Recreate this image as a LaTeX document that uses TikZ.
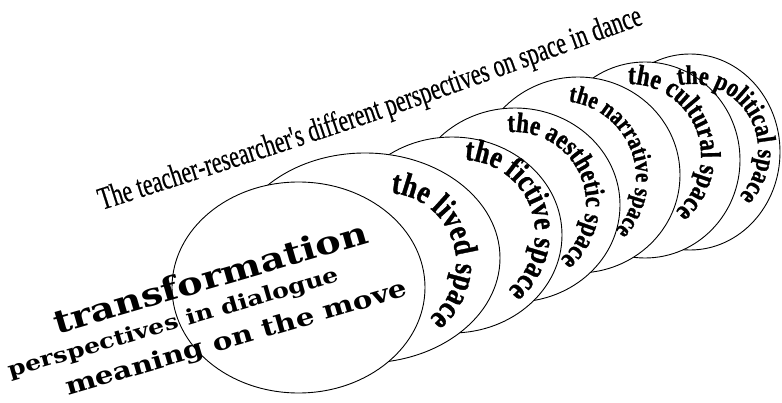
\documentclass[tikz,border=0pt]{standalone}
\usepackage{fontspec}
\setmainfont{Liberation Serif}
\newfontfamily\arcfont[FakeStretch=0.82,FakeBold=1]{Liberation Serif}
\newfontfamily\titlefont[FakeStretch=0.69,FakeBold=0.4]{Liberation Serif}
\newfontfamily\wideserif[FakeStretch=1.2]{DejaVu Serif}
\usetikzlibrary{shapes.geometric,decorations.text}

\begin{document}
\begin{tikzpicture}[
        x=1pt, y=1pt, % one unit = one point
        disc/.style={draw, fill=white, ellipse, inner sep=0pt, line width=0.9pt}, % one space
        arctext/.style={decorate, decoration={text along path, text format delimiters={|}{|}}}, % curved lettering
        wide/.style={anchor=base, rotate=16.3, inner sep=0pt} % slanted lines in the front disc
        ]
        \useasboundingbox (0,0) rectangle (782,402);

        % Define the spaces, back to front
        \node[disc, minimum width=180, minimum height=196] (political) at (690,250) {};
        \node[disc, minimum width=190, minimum height=196] (cultural) at (645,242) {};
        \node[disc, minimum width=204, minimum height=196] (narrative) at (578,227) {};
        \node[disc, minimum width=210, minimum height=194] (aesthetic) at (515,197) {};
        \node[disc, minimum width=220, minimum height=196] (fictive) at (452,167) {};
        \node[disc, minimum width=270, minimum height=210] (lived) at (365,144) {};
        \node[disc, minimum width=253, minimum height=211] (core) at (298.5,114.5) {};

        % Names along the right rim of each space
        \path[arctext, decoration={text={|\arcfont\bfseries\fontsize{27}{27}\selectfont|the political space}}]
            (692,252) ++(102:66) arc[start angle=102, end angle=-90, radius=66];
        \path[arctext, decoration={text={|\arcfont\bfseries\fontsize{28.6}{28}\selectfont|the cultural space}}]
            (629,246) ++(91:72) arc[start angle=91, end angle=-90, radius=72];
        \path[arctext, decoration={text={|\arcfont\bfseries\fontsize{25.3}{25}\selectfont|the narrative space}}]
            (559,224) ++(83:77) arc[start angle=83, end angle=-90, radius=77];
        \path[arctext, decoration={text={|\arcfont\bfseries\fontsize{28.2}{28}\selectfont|the aesthetic space}}]
            (514,198) ++(95:72) arc[start angle=95, end angle=-90, radius=72];
        \path[arctext, decoration={text={|\arcfont\bfseries\fontsize{31.9}{32}\selectfont|the fictive space}}]
            (462,169) ++(88:73) arc[start angle=88, end angle=-90, radius=73];
        \path[arctext, decoration={text={|\arcfont\bfseries\fontsize{33}{33}\selectfont|the lived space}}]
            (386,139) ++(86:70) arc[start angle=86, end angle=-90, radius=70];

        % Heading over the row of spaces
        \path[arctext, decoration={text={|\titlefont\fontsize{32}{32}\selectfont|The teacher-researcher's different perspectives on space in dance}}]
            (102,192) .. controls (373,279) .. (652,381);

        % Lines in the front space
        \node[wide, font=\wideserif\bfseries\fontsize{32}{32}\selectfont] (transformation) at (213.5,113.5) {transformation};
        \node[wide, font=\wideserif\bfseries\fontsize{21}{21}\selectfont] (dialogue) at (175.5,73) {perspectives in dialogue};
        \node[wide, font=\wideserif\bfseries\fontsize{24.5}{24.5}\selectfont] (move) at (238.5,56.5) {meaning on the move};

    \end{tikzpicture}
\end{document}
